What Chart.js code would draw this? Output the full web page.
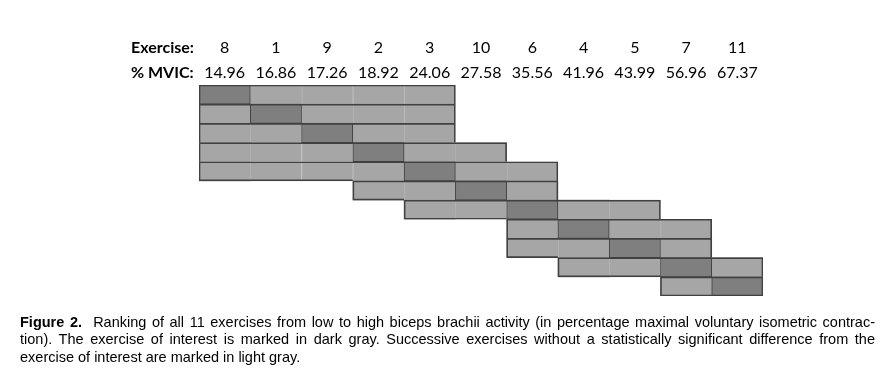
<!DOCTYPE html>
<html>
<head>
<meta charset="utf-8">
<script src="https://cdn.jsdelivr.net/npm/chart.js@4.4.1/dist/chart.umd.min.js"></script>
<style>
  html, body { margin: 0; padding: 0; background: #fff; }
  #wrap { position: relative; width: 896px; height: 386px; overflow: hidden; }
  #rankChart { position: absolute; left: 0; top: 0; }
  .cap {
    position: absolute; left: 20px; top: 314px; width: 855px;
    font-family: "Liberation Sans", Arial, sans-serif; font-size: 14.5px; line-height: 17.3px;
    color: #000;
  }
  .cap div { white-space: nowrap; }
  .cap .j { text-align: justify; text-align-last: justify; }
</style>
</head>
<body>
<div id="wrap">
  <canvas id="rankChart" width="896" height="386"></canvas>
  <div class="cap">
    <div class="j"><b>Figure 2.</b>&nbsp; Ranking of all 11 exercises from low to high biceps brachii activity (in percentage maximal voluntary isometric contrac-</div>
    <div class="j">tion). The exercise of interest is marked in dark gray. Successive exercises without a statistically significant difference from the</div>
    <div>exercise of interest are marked in light gray.</div>
  </div>
</div>
<script>
// exercises ranked from low to high activity
const exercises = ['8', '1', '9', '2', '3', '10', '6', '4', '5', '7', '11'];
const mvic = [14.96, 16.86, 17.26, 18.92, 24.06, 27.58, 35.56, 41.96, 43.99, 56.96, 67.37];

// per row (exercise of interest): first and last column of the non-significant group
const groupStart = [0, 0, 0, 0, 0, 3, 4, 6, 6, 7, 9];
const groupEnd = [4, 4, 4, 5, 6, 6, 8, 9, 9, 10, 10];

const LIGHT = '#a6a6a6';
const DARK = '#7f7f7f';
const EDGE = '#404040';
const SEP = '#c4c4c4';

const rows = exercises.map((_, i) => i);
const last = rows.length - 1;

// left side titles for the two header lines
const headerTitles = {
    id: 'headerTitles',
    afterDraw(chart) {
        const s = chart.scales.x2;
        const lh = 25;
        const ctx = chart.ctx;
        ctx.save();
        ctx.font = 'bold 16px Lato';
        ctx.fillStyle = '#000';
        ctx.textAlign = 'left';
        ctx.textBaseline = 'middle';
        ctx.fillText('Exercise:', 131, s.bottom - lh * 1.5);
        ctx.fillText('% MVIC:', 131, s.bottom - lh * 0.5);
        ctx.restore();
    }
};

// bottom edge only where the next row does not cover it
function bottomEdge(i) {
    if (i === last) return [groupStart[i], groupEnd[i] + 1];
    if (groupStart[i + 1] > groupStart[i]) return [groupStart[i], groupStart[i + 1]];
    return null;
}

const datasets = [
    {
        label: 'group',
        data: rows.map(i => [groupStart[i], groupEnd[i] + 1]),
        backgroundColor: 'rgba(0,0,0,0)',
        borderColor: EDGE,
        borderWidth: { top: 1, left: 1, right: 1, bottom: 0 },
        order: 0
    },
    {
        label: 'bottom',
        data: rows.map(bottomEdge),
        backgroundColor: 'rgba(0,0,0,0)',
        borderColor: EDGE,
        borderWidth: { top: 0, left: 0, right: 0, bottom: 1 },
        order: 0
    },
    {
        label: 'interest',
        data: rows.map(i => [i, i + 1]),
        backgroundColor: DARK,
        borderColor: EDGE,
        borderWidth: 1,
        order: 1
    }
];

exercises.forEach((_, j) => {
    datasets.push({
        label: 'col' + j,
        data: rows.map(i => (j >= groupStart[i] && j <= groupEnd[i] && j !== i) ? [j, j + 1] : null),
        backgroundColor: LIGHT,
        borderColor: SEP,
        borderWidth: c => ({
            left: (j === groupStart[c.dataIndex] || j === c.dataIndex + 1) ? 0 : 1,
            right: 0, top: 0, bottom: 0
        }),
        order: 2
    });
});

new Chart(document.getElementById('rankChart'), {
    type: 'bar',
    data: { labels: exercises, datasets: datasets },
    options: {
        responsive: false,
        animation: false,
        indexAxis: 'y',
        layout: { padding: { left: 199, right: 133, top: 35, bottom: 90 } },
        datasets: {
            bar: {
                grouped: false,
                barPercentage: 1,
                categoryPercentage: 1,
                borderSkipped: false
            }
        },
        plugins: {
            legend: { display: false },
            tooltip: { enabled: false }
        },
        scales: {
            x: { type: 'linear', min: 0, max: 11, display: false },
            y: { type: 'category', display: false },
            x2: {
                type: 'category',
                position: 'top',
                labels: exercises,
                offset: true,
                grid: { display: false, drawTicks: false },
                border: { display: false },
                ticks: {
                    padding: 0,
                    autoSkip: false,
                    maxRotation: 0,
                    color: '#000',
                    font: { family: 'Lato', size: 16, lineHeight: 25 / 16 },
                    callback: (v, i) => [exercises[i], mvic[i].toFixed(2)]
                }
            }
        }
    },
    plugins: [headerTitles]
});
</script>
</body>
</html>
